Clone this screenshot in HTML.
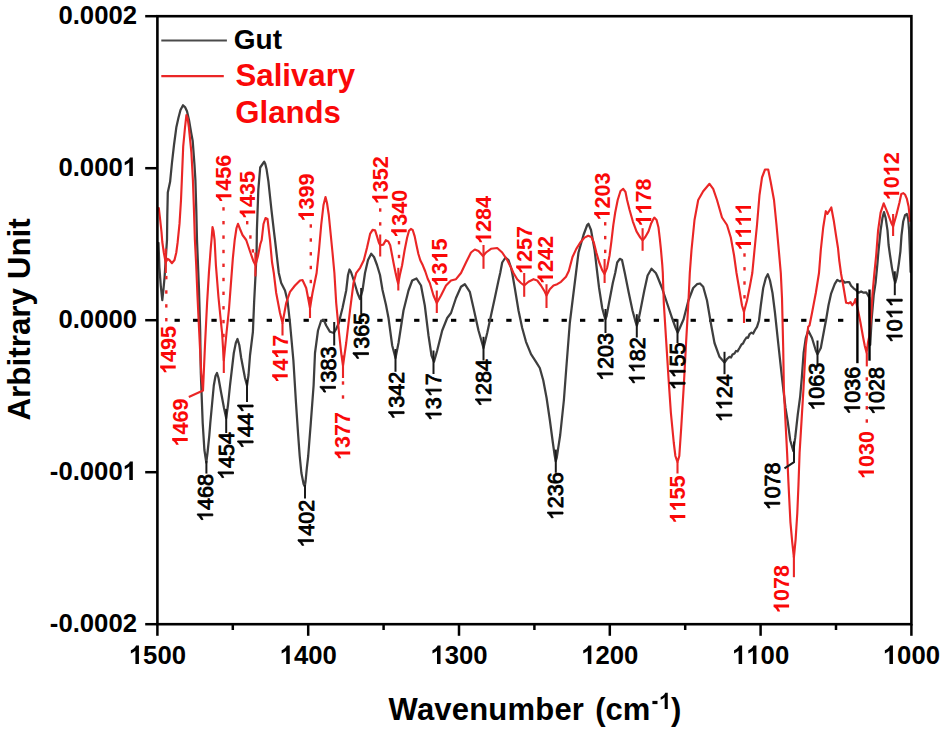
<!DOCTYPE html>
<html><head><meta charset="utf-8"><title>FTIR second derivative spectra</title>
<style>
html,body{margin:0;padding:0;background:#fff;}
body{width:944px;height:733px;overflow:hidden;font-family:"Liberation Sans",sans-serif;}
svg{display:block;}
text{font-family:"Liberation Sans",sans-serif;}
.b{font-weight:bold;}
</style></head><body>
<svg width="944" height="733" viewBox="0 0 944 733">
<rect x="0" y="0" width="944" height="733" fill="#ffffff"/>

<g fill="#000">
<rect x="174.53" y="318.8" width="5.3" height="3" />
<rect x="192.96" y="318.8" width="5.3" height="3" />
<rect x="211.39" y="318.8" width="5.3" height="3" />
<rect x="229.82" y="318.8" width="5.3" height="3" />
<rect x="248.25" y="318.8" width="5.3" height="3" />
<rect x="266.68" y="318.8" width="5.3" height="3" />
<rect x="285.11" y="318.8" width="5.3" height="3" />
<rect x="303.54" y="318.8" width="5.3" height="3" />
<rect x="321.97" y="318.8" width="5.3" height="3" />
<rect x="340.40" y="318.8" width="5.3" height="3" />
<rect x="358.83" y="318.8" width="5.3" height="3" />
<rect x="377.26" y="318.8" width="5.3" height="3" />
<rect x="395.69" y="318.8" width="5.3" height="3" />
<rect x="414.12" y="318.8" width="5.3" height="3" />
<rect x="432.55" y="318.8" width="5.3" height="3" />
<rect x="450.98" y="318.8" width="5.3" height="3" />
<rect x="469.41" y="318.8" width="5.3" height="3" />
<rect x="487.84" y="318.8" width="5.3" height="3" />
<rect x="506.27" y="318.8" width="5.3" height="3" />
<rect x="524.70" y="318.8" width="5.3" height="3" />
<rect x="543.13" y="318.8" width="5.3" height="3" />
<rect x="561.56" y="318.8" width="5.3" height="3" />
<rect x="579.99" y="318.8" width="5.3" height="3" />
<rect x="598.42" y="318.8" width="5.3" height="3" />
<rect x="616.85" y="318.8" width="5.3" height="3" />
<rect x="635.28" y="318.8" width="5.3" height="3" />
<rect x="653.71" y="318.8" width="5.3" height="3" />
<rect x="672.14" y="318.8" width="5.3" height="3" />
<rect x="690.57" y="318.8" width="5.3" height="3" />
<rect x="709.00" y="318.8" width="5.3" height="3" />
<rect x="727.43" y="318.8" width="5.3" height="3" />
<rect x="745.86" y="318.8" width="5.3" height="3" />
<rect x="764.29" y="318.8" width="5.3" height="3" />
<rect x="782.72" y="318.8" width="5.3" height="3" />
<rect x="801.15" y="318.8" width="5.3" height="3" />
<rect x="819.58" y="318.8" width="5.3" height="3" />
<rect x="838.01" y="318.8" width="5.3" height="3" />
<rect x="874.87" y="318.8" width="5.3" height="3" />
</g>
<polyline points="158.5,243.0 159.4,267.6 160.8,286.0 162.3,300.2 163.4,290.0 164.6,277.0 166.2,252.0 167.0,240.0 167.3,215.0 167.8,192.5 170.1,181.8 172.0,162.5 174.0,145.0 176.3,127.6 178.4,118.0 180.5,110.0 183.0,105.3 185.0,107.0 187.0,111.3 189.0,120.0 191.2,133.0 192.7,141.0 194.5,165.0 195.4,180.0 196.3,210.0 197.0,240.0 198.0,265.0 199.0,290.0 200.2,331.8 200.8,373.0 202.7,423.0 204.4,450.0 206.3,462.5 207.6,452.0 209.3,435.5 210.3,423.0 213.8,385.5 215.5,376.0 217.0,373.0 218.5,378.0 221.2,393.0 224.0,408.0 226.2,418.0 228.0,405.0 230.0,385.5 233.8,353.0 235.8,343.0 237.5,339.0 239.3,345.0 241.2,358.0 245.0,378.0 247.0,385.5 248.5,375.0 250.0,355.5 252.9,331.8 254.1,302.7 255.4,277.6 256.6,252.5 256.9,230.0 258.3,190.2 260.2,167.5 262.6,164.0 264.2,161.6 265.3,164.0 266.5,168.9 268.4,181.4 271.5,210.3 274.0,231.8 275.0,240.0 278.8,273.0 281.2,283.0 285.0,290.5 287.5,300.5 290.0,323.0 293.4,360.5 296.0,403.0 298.2,435.5 299.7,456.0 301.4,473.0 303.6,484.0 304.8,486.5 305.6,481.0 306.8,468.4 308.2,456.0 310.8,423.0 313.6,385.5 315.0,353.0 318.0,330.5 321.2,320.5 323.8,320.0 326.2,325.5 330.0,331.8 333.8,333.0 336.2,329.0 338.8,323.0 342.5,308.0 346.2,290.5 348.0,275.0 349.5,269.5 351.0,272.0 353.8,280.5 357.5,293.0 360.0,299.0 362.5,290.5 365.0,273.0 368.0,260.0 371.2,253.8 374.0,257.0 377.0,265.0 380.0,275.0 382.5,290.0 386.0,305.0 388.5,318.0 392.2,345.5 395.5,358.0 398.5,343.0 403.5,310.5 408.5,290.5 412.2,280.5 416.5,278.5 421.0,285.5 424.8,305.5 428.5,335.5 431.5,355.5 434.0,361.8 437.2,350.5 442.2,330.5 447.2,318.0 451.0,313.0 456.0,298.0 461.0,286.8 464.8,284.2 469.8,291.8 473.5,308.0 478.5,330.5 483.5,348.0 487.2,333.0 491.0,315.5 494.8,298.0 498.5,280.5 500.2,273.0 502.2,262.5 505.5,257.5 508.5,260.0 511.0,267.5 512.2,273.0 514.8,288.0 518.5,310.5 522.2,328.0 526.0,341.8 531.0,354.2 536.0,361.8 539.8,368.0 543.3,380.5 546.6,398.0 549.9,420.5 552.9,443.0 554.6,455.0 555.7,461.2 556.7,458.0 558.2,448.2 560.2,435.0 563.9,400.0 566.3,368.0 569.8,323.0 573.5,293.0 576.0,273.0 578.5,252.5 583.5,235.0 587.2,225.0 588.5,223.8 591.0,230.0 594.6,250.0 596.8,269.0 599.1,288.0 602.2,308.0 604.3,316.0 605.4,319.2 606.6,316.0 609.0,303.0 612.8,283.0 615.2,273.0 617.2,262.5 619.8,258.8 622.0,260.0 624.8,273.0 628.8,293.0 632.5,310.5 635.6,322.0 636.8,325.6 638.0,322.0 640.3,311.0 644.3,290.5 647.6,275.5 651.5,268.8 655.8,273.0 657.0,275.5 662.0,288.0 667.0,303.0 672.0,317.8 675.5,327.5 677.7,332.6 679.8,328.0 683.6,319.3 688.4,300.5 693.2,288.0 697.0,284.2 700.0,283.5 703.2,286.8 707.0,300.5 710.8,323.0 714.5,343.0 719.5,356.8 724.5,362.5 727.0,359.0 729.5,356.8 731.0,357.5 732.5,354.5 734.5,353.5 736.0,351.0 737.5,351.3 739.5,348.0 741.5,344.5 743.0,343.5 744.5,340.5 746.5,337.5 748.0,337.8 749.5,334.2 751.5,332.6 753.2,333.6 755.0,330.0 757.0,326.8 759.0,320.5 760.8,305.5 763.2,288.0 765.8,278.0 767.8,274.2 770.0,280.5 772.5,293.0 775.0,313.0 778.2,343.0 782.0,378.0 785.5,408.0 787.7,421.4 790.2,440.2 793.3,451.0 795.2,437.7 797.7,415.1 800.2,396.3 801.8,378.0 803.6,353.0 805.8,338.0 808.2,330.5 812.0,338.0 815.8,350.5 817.5,354.2 820.8,348.0 824.5,328.0 826.0,320.3 828.5,305.2 831.0,293.9 834.8,283.9 837.3,279.9 839.8,281.4 842.3,280.1 844.8,282.6 847.3,282.0 849.2,282.0 851.1,285.8 853.6,288.3 856.1,290.2 858.6,292.7 861.1,291.4 863.6,292.7 866.2,292.4 868.0,295.2 869.3,297.7 870.2,345.0 871.6,320.0 873.7,295.2 875.6,282.6 877.4,263.8 878.4,251.8 880.6,230.3 882.5,217.7 884.0,212.1 885.6,217.7 887.5,230.3 888.6,245.0 890.0,255.0 891.9,267.6 893.8,277.6 895.3,282.6 896.9,276.4 898.8,263.8 900.4,251.3 901.5,235.3 903.2,221.5 905.0,215.2 906.9,214.0 908.2,219.0 909.1,230.3 909.9,251.8 910.6,272.0" fill="none" stroke="#3e3e3e" stroke-width="2.25" stroke-linejoin="round" stroke-linecap="round"/>
<polyline points="158.8,208.0 160.2,220.0 161.5,232.0 162.3,242.0 163.8,252.5 165.7,262.6 167.6,258.8 169.4,260.0 172.0,263.2 174.5,260.0 176.3,252.5 177.6,242.7 179.5,223.9 181.0,200.0 181.8,181.0 183.2,146.5 185.0,127.5 186.4,115.1 187.6,118.0 188.9,127.6 191.4,152.7 192.9,180.0 193.8,205.0 194.9,240.0 196.2,265.0 197.5,296.5 199.2,331.8 201.2,373.0 203.0,390.5 205.0,345.0 207.1,302.7 209.0,271.4 210.9,246.3 211.5,240.0 212.5,227.0 213.5,231.0 214.6,240.0 215.9,265.1 218.4,296.5 220.9,321.6 222.1,333.0 223.8,360.5 226.4,334.0 229.0,309.0 230.9,283.9 232.8,258.8 234.7,240.0 236.5,228.0 238.0,223.8 240.0,229.0 242.5,235.0 246.2,240.0 250.4,252.5 253.5,261.3 255.4,265.1 257.9,256.3 260.4,243.8 261.7,240.0 263.5,224.0 265.5,218.0 267.5,219.0 270.0,240.0 272.0,262.0 273.8,273.0 276.2,293.0 280.0,313.0 282.5,323.0 286.2,303.0 290.0,291.8 295.0,285.5 300.0,280.5 302.5,280.0 306.2,288.0 310.0,308.0 312.5,293.0 316.6,273.0 319.0,250.0 321.2,225.0 323.5,205.0 325.5,197.0 327.0,203.0 328.8,215.0 332.5,252.5 334.4,273.0 336.2,303.0 338.8,330.5 341.2,353.0 343.0,365.5 346.2,343.0 350.0,310.5 353.5,283.0 356.3,272.8 360.1,267.8 363.8,260.3 367.0,247.7 370.1,233.9 372.6,229.9 375.1,230.4 377.0,236.4 378.9,242.7 380.2,245.2 383.3,244.6 385.8,240.2 388.3,241.4 390.2,245.2 392.1,255.2 394.0,265.3 395.8,274.1 397.2,280.0 398.2,283.8 399.8,275.3 402.1,265.3 404.6,250.2 407.1,237.7 409.0,230.8 410.9,228.9 412.8,230.2 414.7,236.4 416.5,245.2 418.4,254.0 420.3,260.3 422.8,265.3 425.3,271.5 427.8,279.0 429.8,283.0 433.5,295.5 436.8,303.0 441.0,295.5 446.0,285.5 451.0,280.5 456.0,279.2 461.0,273.0 466.0,262.5 471.0,252.5 474.8,249.5 478.5,251.0 483.0,256.0 486.0,252.5 491.0,248.8 497.2,248.0 502.2,252.5 507.2,260.0 511.0,267.5 513.5,273.0 517.2,279.2 521.0,283.0 524.2,285.5 528.5,281.8 533.5,279.2 537.2,280.5 541.0,285.5 544.8,291.8 546.5,295.5 549.8,289.2 553.5,285.5 557.2,284.2 561.0,281.8 566.0,276.8 568.8,271.0 572.5,257.0 576.3,248.9 580.1,242.7 584.5,237.6 588.2,235.8 591.4,237.0 593.9,242.7 596.4,252.7 598.9,261.5 602.0,269.6 604.5,274.0 607.1,267.8 609.6,255.2 611.4,241.4 613.3,225.1 615.2,212.5 617.7,200.0 620.5,191.0 623.2,188.8 625.5,192.0 627.1,200.0 629.6,210.0 632.8,221.3 636.5,231.4 640.3,237.6 642.6,240.2 645.3,237.0 648.5,231.4 651.0,223.8 653.5,218.8 654.3,217.6 656.6,220.1 658.5,227.6 659.7,237.6 661.0,250.2 662.3,265.2 662.8,273.0 663.8,303.0 666.0,338.0 668.5,378.0 670.9,413.0 673.8,443.0 675.4,456.0 677.5,462.2 679.3,456.0 681.2,428.0 683.8,385.5 686.2,340.5 688.5,300.5 689.8,273.0 691.5,250.0 694.5,220.0 698.2,200.0 703.2,191.2 709.5,183.8 713.2,188.8 717.0,200.0 722.0,217.5 727.0,225.0 730.8,237.5 734.0,255.0 736.5,273.0 739.5,290.5 742.0,305.5 744.0,311.8 747.0,300.5 750.0,285.5 752.3,273.0 754.5,250.0 757.0,225.0 759.5,195.0 762.0,177.5 765.0,169.5 768.2,169.5 770.8,182.5 774.0,200.0 776.5,225.0 779.0,252.5 780.8,273.0 782.0,298.0 783.2,348.0 783.9,390.0 785.8,427.6 787.1,452.7 788.4,481.8 790.4,521.8 792.2,542.0 793.9,557.3 795.6,539.6 797.3,513.0 798.5,484.0 799.6,452.7 801.5,421.4 803.4,390.0 805.8,345.5 808.2,326.8 809.5,325.5 812.0,313.0 815.8,293.0 819.0,273.0 820.8,250.0 823.2,227.5 825.8,211.2 827.5,213.8 831.3,207.5 833.7,220.2 836.0,235.3 838.0,248.0 839.2,260.0 841.1,273.9 843.6,287.7 846.1,302.7 848.6,303.3 850.5,302.1 852.3,305.2 854.2,302.7 855.5,299.0 858.0,310.2 860.5,322.8 863.0,336.8 864.8,346.0 866.6,352.6 868.0,342.5 869.3,336.3 871.2,315.3 872.4,295.2 874.3,273.9 876.2,255.0 878.1,230.3 880.6,212.7 883.7,203.3 887.5,212.7 891.2,222.7 893.1,226.5 896.3,215.2 899.4,202.7 901.3,193.9 903.2,193.2 905.0,194.5 906.9,198.9 908.6,206.4 909.4,214.0 909.9,221.0" fill="none" stroke="#ea2626" stroke-width="2.15" stroke-linejoin="round" stroke-linecap="round"/>
<g fill="none" stroke="#1a1a1a" stroke-width="2.0">
<polyline points="206.4,461.0 206.4,473.6"/>
<polyline points="226.2,409.0 226.2,433.0"/>
<polyline points="247.0,380.0 247.0,402.0"/>
<polyline points="305.0,485.0 305.0,498.5"/>
<polyline points="334.2,322.0 334.2,345.5"/>
<polyline points="361.2,288.0 361.2,314.0"/>
<polyline points="395.5,349.0 395.5,371.8"/>
<polyline points="433.5,350.5 433.5,374.0"/>
<polyline points="483.5,336.8 483.5,360.5"/>
<polyline points="555.8,449.6 555.8,472.8"/>
<polyline points="605.5,309.0 605.5,333.0"/>
<polyline points="636.8,314.2 636.8,337.5"/>
<polyline points="677.5,319.2 677.5,343.0"/>
<polyline points="724.5,351.8 724.5,374.2"/>
<polyline points="817.5,340.5 817.5,364.2"/>
<polyline points="794.0,441.4 794.0,462.1 784.5,468.4"/>
<polyline points="894.8,271.3 894.8,295.2"/>
</g>
<g fill="none" stroke="#000" stroke-width="2.4">
<polyline points="857.4,283.3 857.4,363.2"/>
<polyline points="869.5,289.5 869.5,360.7"/>
</g>
<g fill="none" stroke="#ea2626" stroke-width="2.1">
<polyline points="165.8,248.6 165.8,273.0"/>
<polyline points="188.8,397.0 203.0,390.5"/>
<polyline points="282.5,323.0 282.5,335.5"/>
<polyline points="398.3,267.8 398.3,290.5"/>
<polyline points="436.8,290.5 436.8,313.0"/>
<polyline points="483.5,245.0 483.5,268.8"/>
<polyline points="524.2,273.0 524.2,296.8"/>
<polyline points="546.5,284.2 546.5,308.0"/>
<polyline points="604.6,259.0 604.6,283.0"/>
<polyline points="642.6,228.2 642.6,250.8"/>
<polyline points="744.0,310.5 744.0,323.0"/>
<polyline points="893.1,214.0 893.1,236.0"/>
<polyline points="677.5,462.2 677.5,473.5"/>
<polyline points="793.9,556.0 793.9,577.2"/>
<polyline points="866.8,352.6 866.8,366.4"/>
<polyline points="380.2,234.5 380.2,256.5"/>
<polyline points="255.4,252.5 255.4,276.4"/>
<polyline points="223.8,348.0 223.8,373.0"/>
<polyline points="310.0,296.8 310.0,318.0"/>
<polyline points="343.0,355.5 343.0,378.0"/>
</g>
<g fill="#ea2626">
<rect x="165.1" y="275.9" width="2.4" height="3.4"/>
<rect x="165.1" y="290.3" width="2.4" height="3.4"/>
<rect x="165.1" y="304.2" width="2.4" height="3.4"/>
<rect x="165.1" y="318.0" width="2.4" height="3.4"/>
<rect x="222.3" y="207.2" width="2.4" height="3.4"/>
<rect x="222.3" y="221.0" width="2.4" height="3.4"/>
<rect x="222.3" y="235.4" width="2.4" height="3.4"/>
<rect x="222.3" y="249.8" width="2.4" height="3.4"/>
<rect x="222.3" y="263.6" width="2.4" height="3.4"/>
<rect x="222.3" y="277.8" width="2.4" height="3.4"/>
<rect x="222.3" y="291.6" width="2.4" height="3.4"/>
<rect x="222.3" y="306.1" width="2.4" height="3.4"/>
<rect x="222.3" y="319.9" width="2.4" height="3.4"/>
<rect x="222.3" y="333.8" width="2.4" height="3.4"/>
<rect x="309.6" y="224.3" width="2.4" height="3.4"/>
<rect x="309.6" y="238.3" width="2.4" height="3.4"/>
<rect x="309.6" y="252.1" width="2.4" height="3.4"/>
<rect x="309.6" y="265.8" width="2.4" height="3.4"/>
<rect x="309.6" y="279.8" width="2.4" height="3.4"/>
<rect x="341.8" y="381.3" width="2.4" height="3.4"/>
<rect x="341.8" y="395.3" width="2.4" height="3.4"/>
<rect x="397.8" y="241.0" width="2.4" height="3.4"/>
<rect x="397.8" y="254.8" width="2.4" height="3.4"/>
<rect x="604.0" y="222.1" width="2.4" height="3.4"/>
<rect x="604.0" y="235.9" width="2.4" height="3.4"/>
<rect x="604.0" y="249.7" width="2.4" height="3.4"/>
<rect x="743.3" y="253.3" width="2.4" height="3.4"/>
<rect x="743.3" y="267.1" width="2.4" height="3.4"/>
<rect x="743.3" y="281.3" width="2.4" height="3.4"/>
<rect x="743.3" y="295.1" width="2.4" height="3.4"/>
<rect x="865.6" y="377.3" width="2.4" height="3.4"/>
<rect x="865.6" y="392.3" width="2.4" height="3.4"/>
<rect x="865.6" y="406.1" width="2.4" height="3.4"/>
<rect x="865.6" y="419.3" width="2.4" height="3.4"/>
<rect x="246.0" y="221.0" width="2.4" height="3.4"/>
<rect x="249.2" y="235.3" width="2.4" height="3.4"/>
<rect x="251.7" y="249.2" width="2.4" height="3.4"/>
<rect x="379.0" y="208.3" width="2.4" height="3.4"/>
<rect x="379.0" y="222.2" width="2.4" height="3.4"/>
</g>
<g class="b" fill="#fa0808" font-size="21.6">
<g transform="translate(175.7,350.0) rotate(-90)"><path d="M806 0H525V1059Q371 915 162 846V1101Q272 1137 401 1237.5T578 1472H806Z" transform="translate(-24.02,0) scale(0.01055,-0.01055)" /><text x="-12.01" y="0">495</text></g>
<g transform="translate(187.7,422.5) rotate(-90)"><path d="M806 0H525V1059Q371 915 162 846V1101Q272 1137 401 1237.5T578 1472H806Z" transform="translate(-24.02,0) scale(0.01055,-0.01055)" /><text x="-12.01" y="0">469</text></g>
<g transform="translate(231.4,178.8) rotate(-90)"><path d="M806 0H525V1059Q371 915 162 846V1101Q272 1137 401 1237.5T578 1472H806Z" transform="translate(-24.02,0) scale(0.01055,-0.01055)" /><text x="-12.01" y="0">456</text></g>
<g transform="translate(255.2,195.0) rotate(-90)"><path d="M806 0H525V1059Q371 915 162 846V1101Q272 1137 401 1237.5T578 1472H806Z" transform="translate(-24.02,0) scale(0.01055,-0.01055)" /><text x="-12.01" y="0">435</text></g>
<g transform="translate(287.7,358.8) rotate(-90)"><path d="M806 0H525V1059Q371 915 162 846V1101Q272 1137 401 1237.5T578 1472H806Z" transform="translate(-24.02,0) scale(0.01055,-0.01055)" /><text x="-12.01" y="0">4</text><path d="M806 0H525V1059Q371 915 162 846V1101Q272 1137 401 1237.5T578 1472H806Z" transform="translate(0.00,0) scale(0.01055,-0.01055)" /><text x="12.01" y="0">7</text></g>
<g transform="translate(313.9,197.5) rotate(-90)"><path d="M806 0H525V1059Q371 915 162 846V1101Q272 1137 401 1237.5T578 1472H806Z" transform="translate(-24.02,0) scale(0.01055,-0.01055)" /><text x="-12.01" y="0">399</text></g>
<g transform="translate(350.2,436.0) rotate(-90)"><path d="M806 0H525V1059Q371 915 162 846V1101Q272 1137 401 1237.5T578 1472H806Z" transform="translate(-24.02,0) scale(0.01055,-0.01055)" /><text x="-12.01" y="0">377</text></g>
<g transform="translate(387.7,180.2) rotate(-90)"><path d="M806 0H525V1059Q371 915 162 846V1101Q272 1137 401 1237.5T578 1472H806Z" transform="translate(-24.02,0) scale(0.01055,-0.01055)" /><text x="-12.01" y="0">352</text></g>
<g transform="translate(406.7,213.8) rotate(-90)"><path d="M806 0H525V1059Q371 915 162 846V1101Q272 1137 401 1237.5T578 1472H806Z" transform="translate(-24.02,0) scale(0.01055,-0.01055)" /><text x="-12.01" y="0">340</text></g>
<g transform="translate(447.4,262.5) rotate(-90)"><path d="M806 0H525V1059Q371 915 162 846V1101Q272 1137 401 1237.5T578 1472H806Z" transform="translate(-24.02,0) scale(0.01055,-0.01055)" /><text x="-12.01" y="0">3</text><path d="M806 0H525V1059Q371 915 162 846V1101Q272 1137 401 1237.5T578 1472H806Z" transform="translate(0.00,0) scale(0.01055,-0.01055)" /><text x="12.01" y="0">5</text></g>
<g transform="translate(491.2,220.0) rotate(-90)"><path d="M806 0H525V1059Q371 915 162 846V1101Q272 1137 401 1237.5T578 1472H806Z" transform="translate(-24.02,0) scale(0.01055,-0.01055)" /><text x="-12.01" y="0">284</text></g>
<g transform="translate(531.7,250.0) rotate(-90)"><path d="M806 0H525V1059Q371 915 162 846V1101Q272 1137 401 1237.5T578 1472H806Z" transform="translate(-24.02,0) scale(0.01055,-0.01055)" /><text x="-12.01" y="0">257</text></g>
<g transform="translate(553.0,260.0) rotate(-90)"><path d="M806 0H525V1059Q371 915 162 846V1101Q272 1137 401 1237.5T578 1472H806Z" transform="translate(-24.02,0) scale(0.01055,-0.01055)" /><text x="-12.01" y="0">242</text></g>
<g transform="translate(609.7,196.5) rotate(-90)"><path d="M806 0H525V1059Q371 915 162 846V1101Q272 1137 401 1237.5T578 1472H806Z" transform="translate(-24.02,0) scale(0.01055,-0.01055)" /><text x="-12.01" y="0">203</text></g>
<g transform="translate(651.3,202.5) rotate(-90)"><path d="M806 0H525V1059Q371 915 162 846V1101Q272 1137 401 1237.5T578 1472H806Z" transform="translate(-24.02,0) scale(0.01055,-0.01055)" /><path d="M806 0H525V1059Q371 915 162 846V1101Q272 1137 401 1237.5T578 1472H806Z" transform="translate(-12.01,0) scale(0.01055,-0.01055)" /><text x="0.00" y="0">78</text></g>
<g transform="translate(751.0,226.4) rotate(-90)"><path d="M806 0H525V1059Q371 915 162 846V1101Q272 1137 401 1237.5T578 1472H806Z" transform="translate(-24.02,0) scale(0.01055,-0.01055)" /><path d="M806 0H525V1059Q371 915 162 846V1101Q272 1137 401 1237.5T578 1472H806Z" transform="translate(-12.01,0) scale(0.01055,-0.01055)" /><path d="M806 0H525V1059Q371 915 162 846V1101Q272 1137 401 1237.5T578 1472H806Z" transform="translate(0.00,0) scale(0.01055,-0.01055)" /><path d="M806 0H525V1059Q371 915 162 846V1101Q272 1137 401 1237.5T578 1472H806Z" transform="translate(12.01,0) scale(0.01055,-0.01055)" /></g>
<g transform="translate(899.2,176.3) rotate(-90)"><path d="M806 0H525V1059Q371 915 162 846V1101Q272 1137 401 1237.5T578 1472H806Z" transform="translate(-24.02,0) scale(0.01055,-0.01055)" /><text x="-12.01" y="0">0</text><path d="M806 0H525V1059Q371 915 162 846V1101Q272 1137 401 1237.5T578 1472H806Z" transform="translate(0.00,0) scale(0.01055,-0.01055)" /><text x="12.01" y="0">2</text></g>
<g transform="translate(685.3,499.5) rotate(-90)"><path d="M806 0H525V1059Q371 915 162 846V1101Q272 1137 401 1237.5T578 1472H806Z" transform="translate(-24.02,0) scale(0.01055,-0.01055)" /><path d="M806 0H525V1059Q371 915 162 846V1101Q272 1137 401 1237.5T578 1472H806Z" transform="translate(-12.01,0) scale(0.01055,-0.01055)" /><text x="0.00" y="0">55</text></g>
<g transform="translate(789.1,589.1) rotate(-90)"><path d="M806 0H525V1059Q371 915 162 846V1101Q272 1137 401 1237.5T578 1472H806Z" transform="translate(-24.02,0) scale(0.01055,-0.01055)" /><text x="-12.01" y="0">078</text></g>
<g transform="translate(873.9,454.9) rotate(-90)"><path d="M806 0H525V1059Q371 915 162 846V1101Q272 1137 401 1237.5T578 1472H806Z" transform="translate(-24.02,0) scale(0.01055,-0.01055)" /><text x="-12.01" y="0">030</text></g>
</g>
<g fill="#000" stroke="#000" stroke-width="0.85" stroke-linejoin="round" font-size="21.5">
<g transform="translate(212.8,498.0) rotate(-90)"><path d="M763 0H583V1147Q518 1085 412.5 1023T223 930V1104Q374 1175 487 1276T647 1472H763Z" transform="translate(-23.91,0) scale(0.01050,-0.01050)" stroke-width="81.0"/><text x="-11.95" y="0">468</text></g>
<g transform="translate(233.5,456.0) rotate(-90)"><path d="M763 0H583V1147Q518 1085 412.5 1023T223 930V1104Q374 1175 487 1276T647 1472H763Z" transform="translate(-23.91,0) scale(0.01050,-0.01050)" stroke-width="81.0"/><text x="-11.95" y="0">454</text></g>
<g transform="translate(253.1,425.0) rotate(-90)"><path d="M763 0H583V1147Q518 1085 412.5 1023T223 930V1104Q374 1175 487 1276T647 1472H763Z" transform="translate(-23.91,0) scale(0.01050,-0.01050)" stroke-width="81.0"/><text x="-11.95" y="0">44</text><path d="M763 0H583V1147Q518 1085 412.5 1023T223 930V1104Q374 1175 487 1276T647 1472H763Z" transform="translate(11.95,0) scale(0.01050,-0.01050)" stroke-width="81.0"/></g>
<g transform="translate(313.5,523.8) rotate(-90)"><path d="M763 0H583V1147Q518 1085 412.5 1023T223 930V1104Q374 1175 487 1276T647 1472H763Z" transform="translate(-23.91,0) scale(0.01050,-0.01050)" stroke-width="81.0"/><text x="-11.95" y="0">402</text></g>
<g transform="translate(335.5,370.5) rotate(-90)"><path d="M763 0H583V1147Q518 1085 412.5 1023T223 930V1104Q374 1175 487 1276T647 1472H763Z" transform="translate(-23.91,0) scale(0.01050,-0.01050)" stroke-width="81.0"/><text x="-11.95" y="0">383</text></g>
<g transform="translate(368.5,336.8) rotate(-90)"><path d="M763 0H583V1147Q518 1085 412.5 1023T223 930V1104Q374 1175 487 1276T647 1472H763Z" transform="translate(-23.91,0) scale(0.01050,-0.01050)" stroke-width="81.0"/><text x="-11.95" y="0">365</text></g>
<g transform="translate(404.1,395.8) rotate(-90)"><path d="M763 0H583V1147Q518 1085 412.5 1023T223 930V1104Q374 1175 487 1276T647 1472H763Z" transform="translate(-23.91,0) scale(0.01050,-0.01050)" stroke-width="81.0"/><text x="-11.95" y="0">342</text></g>
<g transform="translate(441.2,397.2) rotate(-90)"><path d="M763 0H583V1147Q518 1085 412.5 1023T223 930V1104Q374 1175 487 1276T647 1472H763Z" transform="translate(-23.91,0) scale(0.01050,-0.01050)" stroke-width="81.0"/><text x="-11.95" y="0">3</text><path d="M763 0H583V1147Q518 1085 412.5 1023T223 930V1104Q374 1175 487 1276T647 1472H763Z" transform="translate(0.00,0) scale(0.01050,-0.01050)" stroke-width="81.0"/><text x="11.95" y="0">7</text></g>
<g transform="translate(491.0,383.0) rotate(-90)"><path d="M763 0H583V1147Q518 1085 412.5 1023T223 930V1104Q374 1175 487 1276T647 1472H763Z" transform="translate(-23.91,0) scale(0.01050,-0.01050)" stroke-width="81.0"/><text x="-11.95" y="0">284</text></g>
<g transform="translate(563.0,496.2) rotate(-90)"><path d="M763 0H583V1147Q518 1085 412.5 1023T223 930V1104Q374 1175 487 1276T647 1472H763Z" transform="translate(-23.91,0) scale(0.01050,-0.01050)" stroke-width="81.0"/><text x="-11.95" y="0">236</text></g>
<g transform="translate(612.7,357.0) rotate(-90)"><path d="M763 0H583V1147Q518 1085 412.5 1023T223 930V1104Q374 1175 487 1276T647 1472H763Z" transform="translate(-23.91,0) scale(0.01050,-0.01050)" stroke-width="81.0"/><text x="-11.95" y="0">203</text></g>
<g transform="translate(644.5,361.2) rotate(-90)"><path d="M763 0H583V1147Q518 1085 412.5 1023T223 930V1104Q374 1175 487 1276T647 1472H763Z" transform="translate(-23.91,0) scale(0.01050,-0.01050)" stroke-width="81.0"/><path d="M763 0H583V1147Q518 1085 412.5 1023T223 930V1104Q374 1175 487 1276T647 1472H763Z" transform="translate(-11.95,0) scale(0.01050,-0.01050)" stroke-width="81.0"/><text x="0.00" y="0">82</text></g>
<g transform="translate(685.1,366.4) rotate(-90)"><path d="M763 0H583V1147Q518 1085 412.5 1023T223 930V1104Q374 1175 487 1276T647 1472H763Z" transform="translate(-23.91,0) scale(0.01050,-0.01050)" stroke-width="81.0"/><path d="M763 0H583V1147Q518 1085 412.5 1023T223 930V1104Q374 1175 487 1276T647 1472H763Z" transform="translate(-11.95,0) scale(0.01050,-0.01050)" stroke-width="81.0"/><text x="0.00" y="0">55</text></g>
<g transform="translate(731.8,398.3) rotate(-90)"><path d="M763 0H583V1147Q518 1085 412.5 1023T223 930V1104Q374 1175 487 1276T647 1472H763Z" transform="translate(-23.91,0) scale(0.01050,-0.01050)" stroke-width="81.0"/><path d="M763 0H583V1147Q518 1085 412.5 1023T223 930V1104Q374 1175 487 1276T647 1472H763Z" transform="translate(-11.95,0) scale(0.01050,-0.01050)" stroke-width="81.0"/><text x="0.00" y="0">24</text></g>
<g transform="translate(779.8,486.4) rotate(-90)"><path d="M763 0H583V1147Q518 1085 412.5 1023T223 930V1104Q374 1175 487 1276T647 1472H763Z" transform="translate(-23.91,0) scale(0.01050,-0.01050)" stroke-width="81.0"/><text x="-11.95" y="0">078</text></g>
<g transform="translate(824.2,386.8) rotate(-90)"><path d="M763 0H583V1147Q518 1085 412.5 1023T223 930V1104Q374 1175 487 1276T647 1472H763Z" transform="translate(-23.91,0) scale(0.01050,-0.01050)" stroke-width="81.0"/><text x="-11.95" y="0">063</text></g>
<g transform="translate(859.8,390.8) rotate(-90)"><path d="M763 0H583V1147Q518 1085 412.5 1023T223 930V1104Q374 1175 487 1276T647 1472H763Z" transform="translate(-23.91,0) scale(0.01050,-0.01050)" stroke-width="81.0"/><text x="-11.95" y="0">036</text></g>
<g transform="translate(884.3,391.1) rotate(-90)"><path d="M763 0H583V1147Q518 1085 412.5 1023T223 930V1104Q374 1175 487 1276T647 1472H763Z" transform="translate(-23.91,0) scale(0.01050,-0.01050)" stroke-width="81.0"/><text x="-11.95" y="0">028</text></g>
<g transform="translate(902.2,319.2) rotate(-90)"><path d="M763 0H583V1147Q518 1085 412.5 1023T223 930V1104Q374 1175 487 1276T647 1472H763Z" transform="translate(-23.91,0) scale(0.01050,-0.01050)" stroke-width="81.0"/><text x="-11.95" y="0">0</text><path d="M763 0H583V1147Q518 1085 412.5 1023T223 930V1104Q374 1175 487 1276T647 1472H763Z" transform="translate(0.00,0) scale(0.01050,-0.01050)" stroke-width="81.0"/><path d="M763 0H583V1147Q518 1085 412.5 1023T223 930V1104Q374 1175 487 1276T647 1472H763Z" transform="translate(11.95,0) scale(0.01050,-0.01050)" stroke-width="81.0"/></g>
</g>
<rect x="157.4" y="16.2" width="754.0" height="608.0" fill="none" stroke="#000" stroke-width="2.6"/>
<g stroke="#000" stroke-width="2.5">
<line x1="145.2" y1="16.2" x2="157.4" y2="16.2"/>
<line x1="145.2" y1="168.2" x2="157.4" y2="168.2"/>
<line x1="145.2" y1="320.2" x2="157.4" y2="320.2"/>
<line x1="145.2" y1="472.2" x2="157.4" y2="472.2"/>
<line x1="145.2" y1="624.2" x2="157.4" y2="624.2"/>
<line x1="157.4" y1="624.2" x2="157.4" y2="635.8"/>
<line x1="232.8" y1="624.2" x2="232.8" y2="630.0"/>
<line x1="308.2" y1="624.2" x2="308.2" y2="635.8"/>
<line x1="383.6" y1="624.2" x2="383.6" y2="630.0"/>
<line x1="459.0" y1="624.2" x2="459.0" y2="635.8"/>
<line x1="534.4" y1="624.2" x2="534.4" y2="630.0"/>
<line x1="609.8" y1="624.2" x2="609.8" y2="635.8"/>
<line x1="685.2" y1="624.2" x2="685.2" y2="630.0"/>
<line x1="760.6" y1="624.2" x2="760.6" y2="635.8"/>
<line x1="836.0" y1="624.2" x2="836.0" y2="630.0"/>
<line x1="911.4" y1="624.2" x2="911.4" y2="635.8"/>
</g>
<g class="b" fill="#000" font-size="25.7">
<g transform="translate(137,23.9)"><text x="-78.59" y="0">0.0002</text></g>
<g transform="translate(137,175.9)"><text x="-78.59" y="0">0.000</text><path d="M806 0H525V1059Q371 915 162 846V1101Q272 1137 401 1237.5T578 1472H806Z" transform="translate(-14.29,0) scale(0.01255,-0.01255)" /></g>
<g transform="translate(137,327.9)"><text x="-78.59" y="0">0.0000</text></g>
<g transform="translate(137,479.9)"><text x="-87.15" y="0">-0.000</text><path d="M806 0H525V1059Q371 915 162 846V1101Q272 1137 401 1237.5T578 1472H806Z" transform="translate(-14.29,0) scale(0.01255,-0.01255)" /></g>
<g transform="translate(137,631.9)"><text x="-87.15" y="0">-0.0002</text></g>
<g transform="translate(157.4,664)"><path d="M806 0H525V1059Q371 915 162 846V1101Q272 1137 401 1237.5T578 1472H806Z" transform="translate(-28.58,0) scale(0.01255,-0.01255)" /><text x="-14.29" y="0">500</text></g>
<g transform="translate(308.2,664)"><path d="M806 0H525V1059Q371 915 162 846V1101Q272 1137 401 1237.5T578 1472H806Z" transform="translate(-28.58,0) scale(0.01255,-0.01255)" /><text x="-14.29" y="0">400</text></g>
<g transform="translate(459.0,664)"><path d="M806 0H525V1059Q371 915 162 846V1101Q272 1137 401 1237.5T578 1472H806Z" transform="translate(-28.58,0) scale(0.01255,-0.01255)" /><text x="-14.29" y="0">300</text></g>
<g transform="translate(609.8,664)"><path d="M806 0H525V1059Q371 915 162 846V1101Q272 1137 401 1237.5T578 1472H806Z" transform="translate(-28.58,0) scale(0.01255,-0.01255)" /><text x="-14.29" y="0">200</text></g>
<g transform="translate(760.6,664)"><path d="M806 0H525V1059Q371 915 162 846V1101Q272 1137 401 1237.5T578 1472H806Z" transform="translate(-28.58,0) scale(0.01255,-0.01255)" /><path d="M806 0H525V1059Q371 915 162 846V1101Q272 1137 401 1237.5T578 1472H806Z" transform="translate(-14.29,0) scale(0.01255,-0.01255)" /><text x="0.00" y="0">00</text></g>
<g transform="translate(911.4,664)"><path d="M806 0H525V1059Q371 915 162 846V1101Q272 1137 401 1237.5T578 1472H806Z" transform="translate(-28.58,0) scale(0.01255,-0.01255)" /><text x="-14.29" y="0">000</text></g>
</g>
<text class="b" font-size="31.4" fill="#000" transform="translate(29.7,319.4) rotate(-90)" text-anchor="middle">Arbitrary Unit</text>
<text class="b" font-size="31" fill="#000" x="388.6" y="720.4" letter-spacing="0.2">Wavenumber</text>
<text class="b" font-size="31" fill="#000" x="595.3" y="720.4">(cm</text>
<rect x="652.4" y="700.9" width="5.1" height="3.2" fill="#000"/>
<path d="M806 0H525V1059Q371 915 162 846V1101Q272 1137 401 1237.5T578 1472H806Z" fill="#000" transform="translate(658.9,709) scale(0.01099,-0.01099)"/>
<text class="b" font-size="31" fill="#000" x="671.0" y="720.4">)</text>
<line x1="161.3" y1="40.5" x2="226.9" y2="40.5" stroke="#4a4a4a" stroke-width="2.2"/>
<line x1="161.3" y1="76.2" x2="223.8" y2="76.2" stroke="#ea2626" stroke-width="2.2"/>
<text class="b" font-size="28" fill="#000" x="233.8" y="48.8">Gut</text>
<text class="b" font-size="31.2" fill="#fa0808" x="235.5" y="86.0">Salivary</text>
<text class="b" font-size="31.15" fill="#fa0808" x="235.3" y="123.3">Glands</text>
</svg></body></html>
